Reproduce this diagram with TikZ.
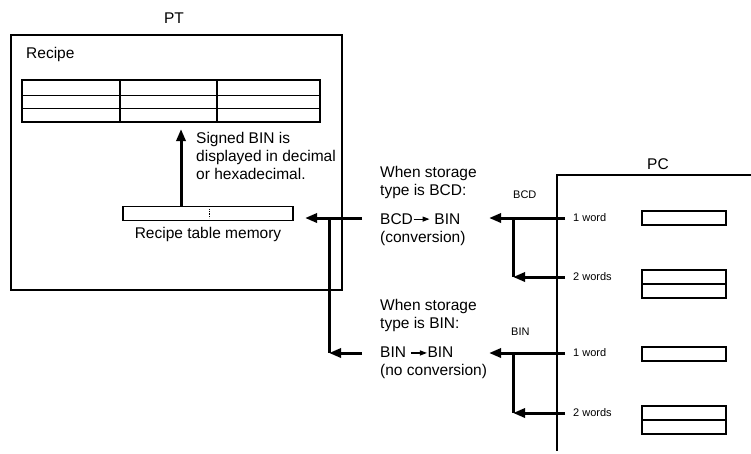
\documentclass[tikz,border=0pt]{standalone}
\usepackage{fontspec}
\setmainfont{Liberation Sans}
\usetikzlibrary{positioning, arrows.meta, calc}

\newcommand{\convarrow}{\tikz[baseline=-0.6ex]\draw[-{Triangle[length=7pt,width=5pt]}, line width=1.2pt] (0,0) -- (16pt,0);}

\begin{document}
\begin{tikzpicture}[x=1pt, y=-1pt,
    txt/.style={inner sep=0pt, font=\fontsize{15.5}{18}\selectfont, align=left},
    small/.style={inner sep=0pt, font=\fontsize{11}{13}\selectfont},
    frame/.style={line width=1.5pt},
    box/.style={draw, line width=1.2pt, inner sep=0pt, minimum width=84pt},
    flow/.style={line width=3pt, -{Triangle[length=12pt,width=9pt]}},
    link/.style={line width=3pt}]
  \useasboundingbox (0,0) rectangle (751,453);

  % PT side
  \node[txt] (pt) at (174,18) {PT};
  \draw[frame] (11,35) rectangle (342,290);
  \node[txt, anchor=north west] (recipe) at (26,47) {Recipe};
  \node[draw, line width=1.2pt, inner sep=0pt, minimum width=298pt, minimum height=42pt] (tbl) at (171,101) {};
  \draw[line width=0.9pt] (tbl.west |- 0,95) -- (tbl.east |- 0,95)
                          (tbl.west |- 0,108) -- (tbl.east |- 0,108);
  \draw[line width=1.1pt] (120,0 |- tbl.north) -- (120,0 |- tbl.south)
                          (217,0 |- tbl.north) -- (217,0 |- tbl.south);
  \node[draw, line width=1.2pt, inner sep=0pt, minimum width=170pt, minimum height=14pt] (mem) at (208,213.5) {};
  \draw[densely dotted, line width=0.8pt] (209,209) -- (209,218);
  \node[txt, below=6pt of mem] (memlbl) {Recipe table memory};
  \coordinate (up) at (181,129);
  \draw[flow] (mem.north -| up) -- (up);
  \node[txt, anchor=north west] (signed) at (196,132) {Signed BIN is\\displayed in decimal\\or hexadecimal.};

  % conversion texts
  \node[txt, anchor=north west] (bcdcase) at (380,166) {When storage\\type is BCD:};
  \node[txt, anchor=north west] (bcdconv) at (380,213) {BCD\convarrow\ BIN\\(conversion)};
  \node[txt, anchor=north west] (bincase) at (380,299) {When storage\\type is BIN:};
  \node[txt, anchor=north west] (binconv) at (380,347) {BIN \convarrow{}BIN\\(no conversion)};

  % left connectors
  \coordinate (bcdsrc) at (362,218);
  \coordinate (binsrc) at (362,353);
  \coordinate (memin) at (305,218);
  \coordinate (jleft) at (329,218);
  \coordinate (jleftlow) at (329,353);
  \draw[flow] (bcdsrc) -- (memin);
  \draw[link] (jleft) -- (jleftlow);
  \draw[flow] (binsrc) -- (jleftlow);

  % PC side
  \node[txt] (pc) at (658,164) {PC};
  \draw[frame] (751,175) -- (557,175) -- (557,451);
  \node[small, anchor=north west] (bcdtag) at (513,191) {BCD};
  \node[small, anchor=north west] (bintag) at (511,328) {BIN};
  \node[small, anchor=west] (bcdone) at (573,218) {1 word};
  \node[small, anchor=west] (bcdtwo) at (573,277) {2 words};
  \node[small, anchor=west] (binone) at (573,353) {1 word};
  \node[small, anchor=west] (bintwo) at (573,413) {2 words};
  \node[box, minimum height=14pt] (wa) at (684,218) {};
  \node[box, minimum height=28pt] (wb) at (684,284) {};
  \draw[line width=1.2pt] (wb.west) -- (wb.east);
  \node[box, minimum height=14pt] (wc) at (684,354) {};
  \node[box, minimum height=28pt] (wd) at (684,420) {};
  \draw[line width=1.2pt] (wd.west) -- (wd.east);

  % right connectors
  \coordinate (bcdone-in) at (565,218);
  \coordinate (bcdtwo-in) at (565,277);
  \coordinate (bcdtip) at (489,218);
  \coordinate (jbcd) at (513,218);
  \coordinate (jbcdlow) at (513,277);
  \draw[flow] (bcdone-in) -- (bcdtip);
  \draw[link] (jbcd) -- (jbcdlow);
  \draw[flow] (bcdtwo-in) -- (jbcdlow);
  \coordinate (binone-in) at (565,353);
  \coordinate (bintwo-in) at (565,413);
  \coordinate (bintip) at (489,353);
  \coordinate (jbin) at (513,353);
  \coordinate (jbinlow) at (513,413);
  \draw[flow] (binone-in) -- (bintip);
  \draw[link] (jbin) -- (jbinlow);
  \draw[flow] (bintwo-in) -- (jbinlow);
\end{tikzpicture}
\end{document}
